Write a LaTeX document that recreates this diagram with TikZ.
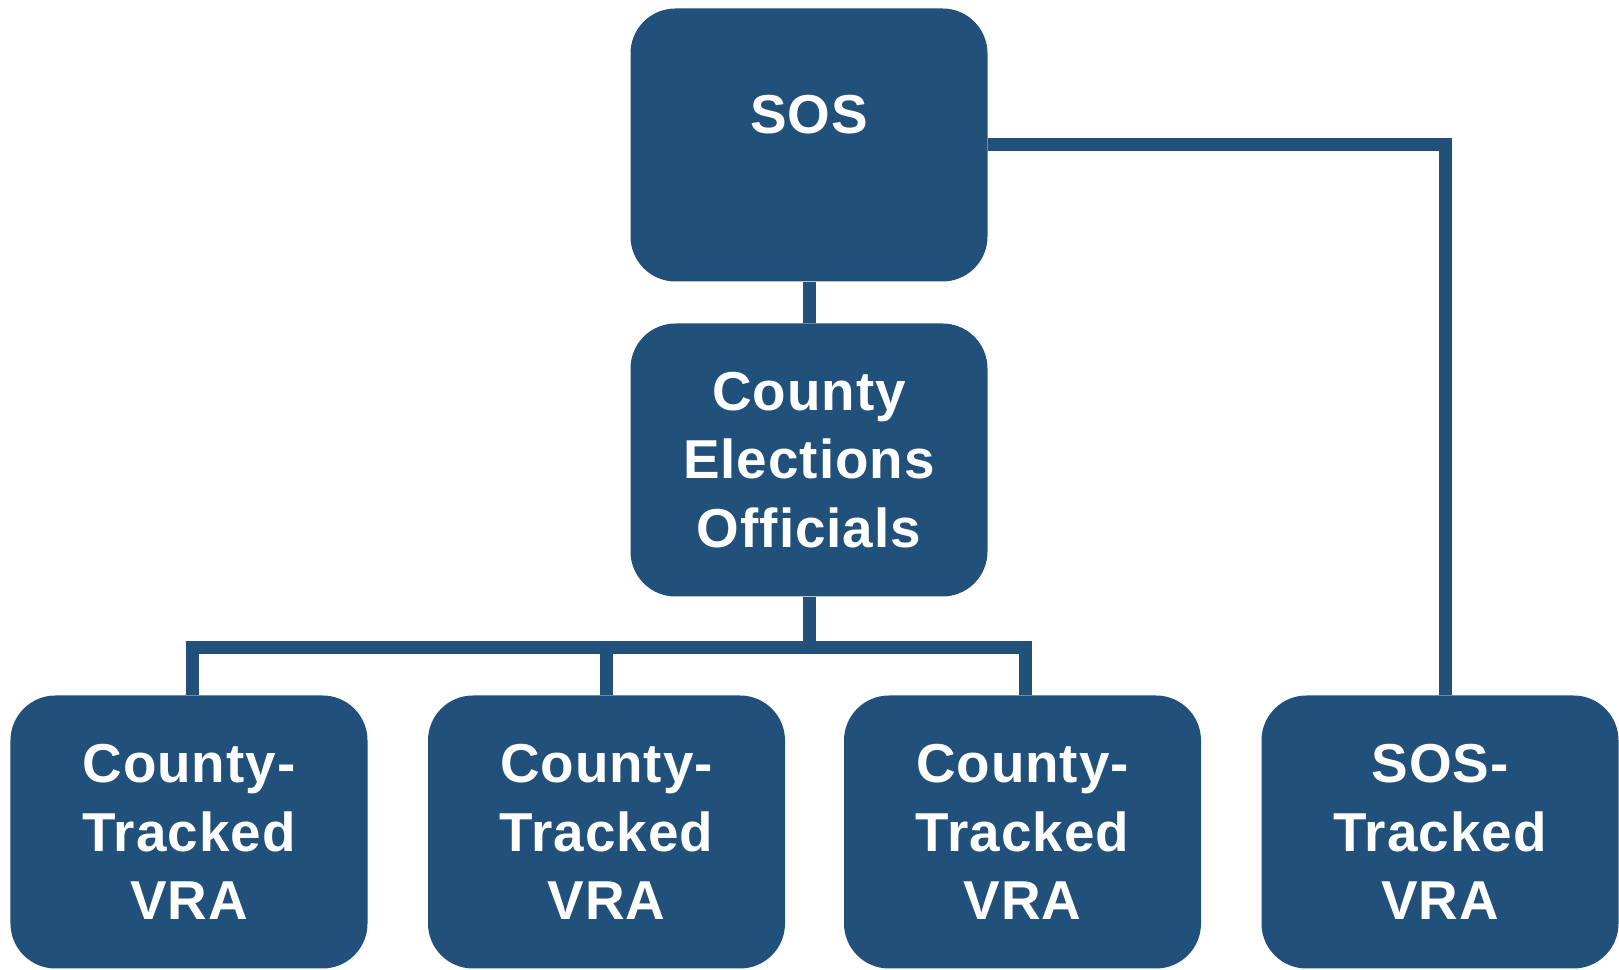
\documentclass[tikz,border=0pt]{standalone}
\usepackage{fontspec}
\setmainfont{Liberation Sans}[LetterSpace=1.8]
\usepackage{tikz}
\usetikzlibrary{calc}
\definecolor{boxblue}{RGB}{33,80,122}

\begin{document}
\begin{tikzpicture}
	\useasboundingbox (0,0) rectangle (16.19,9.70);
	\begin{scope} [every node/.style={rectangle, rounded corners=0.45cm, fill=boxblue, text=white, minimum width=3.57cm, minimum height=2.73cm, inner sep=0pt, align=center, font=\fontsize{15.6}{19.5}\selectfont\bfseries}]
		\node[text height=0.39cm, text depth=0.61cm, align=none] (sos) at (8.09,8.25){SOS};
		\node (county) at (8.09,5.10){County\\Elections\\Officials};
		\node (vra1) at (1.89,1.38){County-\\Tracked\\VRA};
		\node (vra2) at (6.065,1.38){County-\\Tracked\\VRA};
		\node (vra3) at (10.225,1.38){County-\\Tracked\\VRA};
		\node (sosvra) at (14.40,1.38){SOS-\\Tracked\\VRA};
	\end{scope}
	\draw[boxblue, line width=0.13cm] (sos) -- (county);
	\draw[boxblue, line width=0.13cm] (county.south) -- ++(0,-0.505) coordinate (bus);
	\draw[boxblue, line width=0.13cm] ([xshift=0.03cm]vra1.north) |- (bus) -| ([xshift=0.03cm]vra3.north);
	\draw[boxblue, line width=0.13cm] (vra2.north) -- (vra2.north |- bus);
	\draw[boxblue, line width=0.13cm] (sos.east) -| ([xshift=0.05cm]sosvra.north);
\end{tikzpicture}
\end{document}
